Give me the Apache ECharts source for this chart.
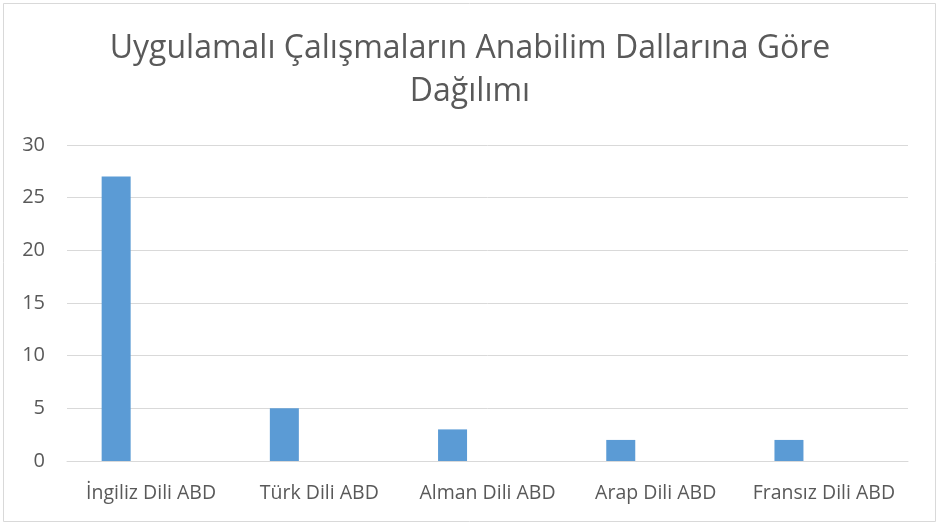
<!DOCTYPE html>
<html lang="tr">
  <head>
    <meta charset="utf-8" />
    <script src="https://cdn.jsdelivr.net/npm/echarts@6/dist/echarts.min.js"></script>
    <title>Uygulamalı Çalışmalar</title>
    <style>
      html, body { margin: 0; padding: 0; background: #fff; }
      #chart { width: 940px; height: 526px; }
    </style>
  </head>
  <body>
    <div id="chart"></div>
    <script>
      var categories = ['İngiliz Dili ABD', 'Türk Dili ABD', 'Alman Dili ABD', 'Arap Dili ABD', 'Fransız Dili ABD']
      var values = [27, 5, 3, 2, 2]
      // ikinci seri boş, çubuklar bu yüzden sola kayık duruyor
      var emptySeries = [null, null, null, null, null]
      var yTicks = { min: 0, max: 30, interval: 5 }

      var font = '"Open Sans", "Noto Sans", sans-serif'
      var chart = echarts.init(document.getElementById('chart'), null, { renderer: 'canvas' })
      chart.setOption({
        animation: false,
        backgroundColor: '#fff',
        textStyle: { fontFamily: font },
        title: {
          text: 'Uygulamalı Çalışmaların Anabilim Dallarına Göre\nDağılımı',
          left: 'center',
          top: 22,
          textStyle: { fontFamily: font, fontSize: 32, fontWeight: 'normal', color: '#595959', lineHeight: 43 }
        },
        graphic: [{
          type: 'rect',
          shape: { x: 3.5, y: 3.5, width: 932, height: 518 },
          style: { fill: 'none', stroke: '#d9d9d9', lineWidth: 1 },
          silent: true
        }],
        grid: { left: 67, right: 32, top: 145, bottom: 65, containLabel: false },
        xAxis: {
          type: 'category',
          data: categories,
          axisLine: { lineStyle: { color: '#d9d9d9', width: 1 } },
          axisTick: { show: false },
          axisLabel: { color: '#595959', fontSize: 19.5, fontFamily: font, margin: 22, interval: 0, hideOverlap: false }
        },
        yAxis: {
          type: 'value',
          min: yTicks.min,
          max: yTicks.max,
          interval: yTicks.interval,
          axisLine: { show: false },
          axisTick: { show: false },
          splitLine: { lineStyle: { color: '#d9d9d9', width: 1 } },
          axisLabel: { color: '#595959', fontSize: 20, fontFamily: font, margin: 22 }
        },
        series: [
          { type: 'bar', data: values, barWidth: 29, barGap: '141%', itemStyle: { color: '#5b9bd5' } },
          { type: 'bar', data: emptySeries, barWidth: 29, itemStyle: { color: '#ed7d31' } }
        ]
      })
    </script>
  </body>
</html>
